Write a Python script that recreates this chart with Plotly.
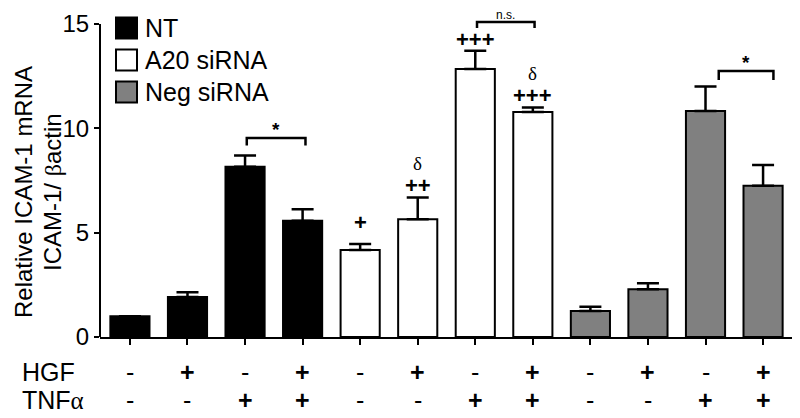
import plotly.graph_objects as go

# ---------------------------------------------------------------------------
# Data
# ---------------------------------------------------------------------------
groups = ["NT", "A20 siRNA", "Neg siRNA"]
group_colors = ["#000000", "#FFFFFF", "#808080"]

hgf = ["-", "+", "-", "+"] * 3
tnf = ["-", "-", "+", "+"] * 3

values = [1.0, 1.92, 8.16, 5.57, 4.17, 5.64, 12.84, 10.78, 1.25, 2.29, 10.83, 7.25]
errors = [0.0, 0.22, 0.54, 0.55, 0.29, 1.05, 0.88, 0.22, 0.20, 0.28, 1.17, 0.99]

# significance marks above single bars: (bar index, lines from top to bottom)
marks = [(4, ["+"]), (5, ["δ", "++"]), (6, ["+++"]), (7, ["δ", "+++"])]

# brackets: (left x, right x, bar height, leg bottom, label)
brackets = [
    (2.03, 3.05, 9.53, 9.17, "*"),
    (6.03, 7.03, 15.09, 14.81, "n.s."),
    (10.23, 11.18, 12.75, 12.31, "*"),
]

# ---------------------------------------------------------------------------
# Layout geometry. The page body adds an 8px margin, so the figure is
# 792x410 and page pixel p maps to figure pixel p - 8.
# ---------------------------------------------------------------------------
OFF = 8
W, H = 800 - OFF, 418 - OFF
L, R, T, B = 100 - OFF, 7, 0, 81
PW, PH = W - L - R, H - T - B
PX_PER_UNIT = 20.87
Y_MAX = PH / PX_PER_UNIT

FONT = "Arial, 'Liberation Sans', sans-serif"
SERIF = "'Times New Roman', 'Liberation Serif', serif"


def px_x(p):
    # page pixel -> paper x
    return (p - OFF - L) / PW


def px_y(p):
    # page pixel -> paper y
    return (H - B - (p - OFF)) / PH


fig = go.Figure()

for g, (name, color) in enumerate(zip(groups, group_colors)):
    idx = list(range(g * 4, g * 4 + 4))
    fig.add_bar(
        x=idx,
        y=[values[i] for i in idx],
        width=0.68,
        name=name,
        marker=dict(color=color, line=dict(color="black", width=2)),
        error_y=dict(
            type="data",
            symmetric=False,
            array=[errors[i] for i in idx],
            arrayminus=[0] * 4,
            color="black",
            thickness=2.5,
            width=11,
        ),
        showlegend=False,
    )

# y axis line drawn only from 0 to 15
fig.add_shape(type="line", xref="paper", yref="y", x0=0, x1=0, y0=0, y1=15,
              line=dict(color="black", width=2))

# brackets
for x0, x1, ytop, yleg, label in brackets:
    fig.add_shape(type="path", xref="x", yref="y",
                  path=f"M {x0},{yleg} L {x0},{ytop} L {x1},{ytop} L {x1},{yleg}",
                  line=dict(color="black", width=2.5))
    star = label == "*"
    fig.add_annotation(x=(x0 + x1) / 2, y=ytop, xref="x", yref="y",
                       text=f"<b>{label}</b>" if star else label,
                       showarrow=False, yanchor="bottom", borderpad=0,
                       yshift=-3 if star else -1,
                       font=dict(family=FONT, size=19 if star else 12,
                                 color="black"))

# significance marks over bars
for i, lines in marks:
    top = values[i] + errors[i]
    shift = {4: 21, 6: 11}.get(i, 12)
    for k, txt in enumerate(reversed(lines)):
        is_delta = txt == "δ"
        fig.add_annotation(x=i, y=top, xref="x", yref="y",
                           text=txt if is_delta else f"<b>{txt}</b>",
                           showarrow=False, yanchor="middle",
                           yshift=shift + 22 * k,
                           borderpad=0,
                           font=dict(family=SERIF if is_delta else FONT,
                                     size=19 if is_delta else 22,
                                     color="black"))

# condition rows below the x axis
rows = [("HGF", hgf, 372),
        ("TNF<span style='font-family:Liberation Serif'>α</span>", tnf, 400)]
for row_label, signs, ypix in rows:
    fig.add_annotation(x=px_x(20), y=px_y(ypix), xref="paper", yref="paper",
                       text=row_label, showarrow=False, xanchor="left",
                       yanchor="middle", font=dict(family=FONT, size=25, color="black"))
    for i, s in enumerate(signs):
        fig.add_annotation(x=i, y=px_y(ypix), xref="x", yref="paper",
                           text=f"<b>{s}</b>" if s == "+" else s,
                           showarrow=False, yanchor="middle",
                           font=dict(family=FONT, size=25, color="black"))

# y axis title (two rotated lines)
for txt, xpix in [("Relative ICAM-1 mRNA", 23),
                  ("ICAM-1/ <span style='font-family:Liberation Serif'>β</span>actin", 52)]:
    fig.add_annotation(x=px_x(xpix), y=px_y(192), xref="paper", yref="paper",
                       text=txt, textangle=-90, showarrow=False,
                       xanchor="center", yanchor="middle", borderpad=0,
                       font=dict(family=FONT, size=24, color="black"))

# manual legend
for k, (name, color) in enumerate(zip(groups, group_colors)):
    cy = 28 + 32 * k
    fig.add_shape(type="rect", xref="paper", yref="paper",
                  x0=px_x(116), x1=px_x(137), y0=px_y(cy - 10.5), y1=px_y(cy + 10.5),
                  fillcolor=color, line=dict(color="black", width=2))
    fig.add_annotation(x=px_x(143), y=px_y(cy), xref="paper", yref="paper",
                       text=name, showarrow=False, xanchor="left", yanchor="middle",
                       font=dict(family=FONT, size=25, color="black"))

fig.update_layout(
    width=W, height=H,
    margin=dict(l=L, r=R, t=T, b=B, pad=0),
    paper_bgcolor="white", plot_bgcolor="white",
    barmode="overlay",
    font=dict(family=FONT, color="black"),
    xaxis=dict(
        range=[-0.52, 11.52], showgrid=False, zeroline=False,
        showline=True, linecolor="black", linewidth=2,
        tickvals=list(range(12)), ticktext=[""] * 12,
        ticks="outside", ticklen=6, tickwidth=2, tickcolor="black",
        fixedrange=True,
    ),
    yaxis=dict(
        range=[0, Y_MAX], showgrid=False, zeroline=False, showline=False,
        tickvals=[0, 5, 10, 15], ticks="outside", ticklen=5, tickwidth=2,
        tickcolor="black", tickfont=dict(family=FONT, size=24, color="black"),
        fixedrange=True,
    ),
)

fig.write_html("out.html")
